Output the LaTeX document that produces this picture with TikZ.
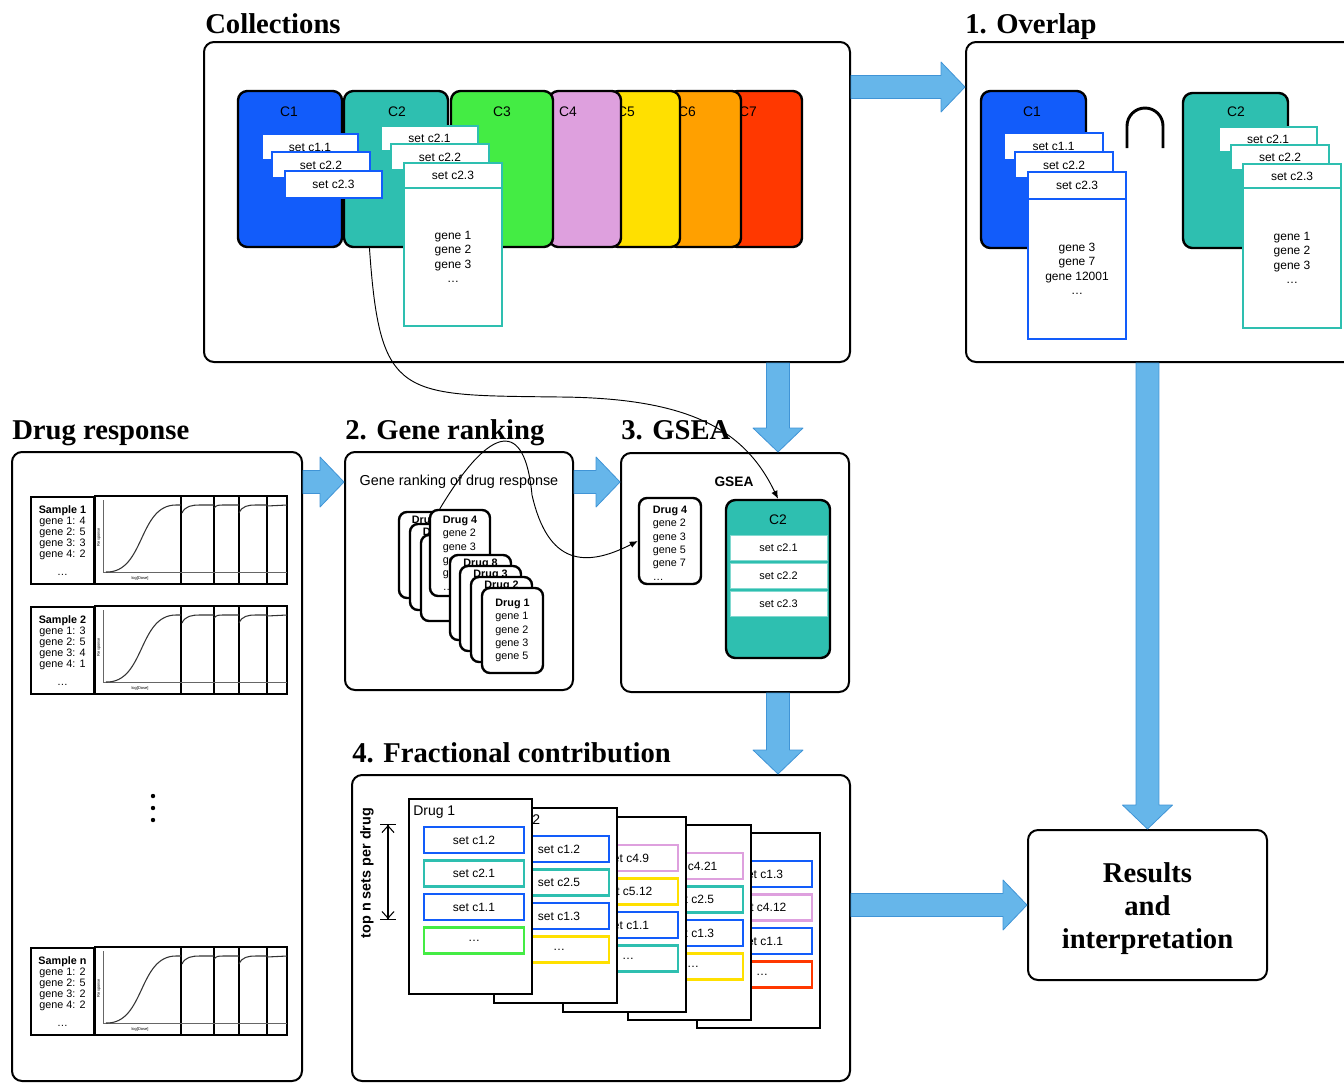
\documentclass[tikz,border=0pt]{standalone}
\usepackage{fontspec}
\setmainfont{Liberation Serif}
\setsansfont{Liberation Sans}
\usetikzlibrary{fit,calc,arrows.meta}

\definecolor{cblue}{RGB}{18,92,250}
\definecolor{cteal}{RGB}{46,191,176}
\definecolor{cgreen}{RGB}{68,236,68}
\definecolor{cpink}{RGB}{222,160,222}
\definecolor{cyellow}{RGB}{255,224,0}
\definecolor{corange}{RGB}{255,160,0}
\definecolor{cred}{RGB}{255,56,0}
\definecolor{arrfill}{RGB}{102,182,234}
\definecolor{arrline}{RGB}{64,148,214}

\tikzset{
  panel/.style={draw, fill=white, line width=1.5pt, rounded corners=7.5pt, inner sep=0pt},
  title/.style={font=\bfseries\fontsize{21.5}{24}\selectfont, anchor=base west, inner sep=0pt},
  coll/.style={draw, line width=1.8pt, rounded corners=7pt, inner sep=0pt},
  clabel/.style={font=\sffamily\fontsize{10.4}{12}\selectfont, inner sep=0pt},
  setbox/.style={draw, fill=white, line width=2pt, inner sep=0pt},
  settext/.style={font=\sffamily\fontsize{9}{10.9}\selectfont, inner sep=0pt, align=center},
  sample/.style={draw, line width=1.8pt, inner sep=0pt},
  sampletext/.style={font=\sffamily\fontsize{8.1}{8.2}\selectfont, inner sep=0pt, align=center},
  tiny/.style={font=\sffamily\fontsize{3}{3}\selectfont, inner sep=0pt},
  drugcard/.style={draw, fill=white, line width=1.8pt, rounded corners=6pt, inner sep=0pt},
  cardtext/.style={font=\sffamily\fontsize{8.1}{10}\selectfont, inner sep=0pt, align=left},
  rowbox/.style={draw=cteal!60, fill=white, line width=0.6pt, inner sep=0pt},
  rowtext/.style={font=\sffamily\fontsize{8.2}{10}\selectfont, inner sep=0pt},
  page/.style={draw, fill=white, line width=1.5pt, inner sep=0pt},
  drugname/.style={font=\sffamily\fontsize{10.5}{12}\selectfont, inner sep=0pt, anchor=west},
  bigtext/.style={font=\bfseries\fontsize{21.5}{24.75}\selectfont, inner sep=0pt, align=center},
  bigarr/.style={fill=arrfill, draw=arrline, line width=0.6pt, line join=round},
  link/.style={line width=0.7pt, -{Latex[length=6pt,width=5pt]}},
}

% block arrow from #1 to #2
\newcommand{\bigarrow}[2]{%
  \path (#1) coordinate (ba-s) (#2) coordinate (ba-e);
  \path ($(ba-e)!18pt!(ba-s)$) coordinate (ba-h);
  \filldraw[bigarr] ($(ba-s)!8.6pt!90:(ba-e)$) -- ($(ba-h)!8.6pt!-90:(ba-s)$)
    -- ($(ba-h)!18.75pt!-90:(ba-s)$) -- (ba-e) -- ($(ba-h)!18.75pt!90:(ba-s)$)
    -- ($(ba-h)!8.6pt!90:(ba-s)$) -- ($(ba-s)!8.6pt!-90:(ba-e)$) -- cycle;}

\begin{document}
\begin{tikzpicture}[x=0.75pt, y=-0.75pt]
\useasboundingbox (0,0) rectangle (1344,1082);
\clip (0,0) rectangle (1344,1082);

% Panels
\node[panel, fit={(204,42) (850,362)}] (coll) {};
\node[panel, fit={(966,42) (1360,362)}] (ovl) {};
\node[panel, fit={(12,452) (302,1081)}] (drug) {};
\node[panel, fit={(345,452) (573,690)}] (grank) {};
\node[panel, fit={(621,453) (849,692)}] (gsea) {};
\node[panel, fit={(352,775) (850,1081)}] (frac) {};
\node[panel, fit={(1028,830) (1267,980)}] (res) {};
\node[bigtext] (res-t) at ([yshift=-3pt]res.center) {Results\\and\\interpretation};

% Titles
\node[title] (coll-t) at (205,33) {Collections};
\node[title] (ovl-t) at (965,33) {1. Overlap};
\node[title] (drug-t) at (12,439) {Drug response};
\node[title] (grank-t) at (345,439) {2. Gene ranking};
\node[title] (gsea-t) at (621,439) {3. GSEA};
\node[title] (frac-t) at (352,762) {4. Fractional contribution};

% Collections
\foreach \n/\xa/\xb/\xl/\col in {7/728/802/748/cred, 6/668/741/687/corange,
    5/609/680/626/cyellow, 4/549/621/568/cpink, 3/451/553/502/cgreen,
    2/344/448/397/cteal, 1/238/342/289/cblue} {
  \node[coll, fill=\col, fit={(\xa,91) (\xb,247)}] (c\n) {};
  \node[clabel] (c\n-l) at (\xl,112) {C\n};
}
\node[setbox, draw=cblue, fit={(262,134) (358,160)}] (c1-s1) {};
\node[settext] (c1-s1-t) at (c1-s1) {set c1.1};
\node[setbox, draw=cblue, fit={(272,152) (370,178)}] (c1-s2) {};
\node[settext] (c1-s2-t) at (c1-s2) {set c2.2};
\node[setbox, draw=cblue, fit={(285,171) (382,198)}] (c1-s3) {};
\node[settext] (c1-s3-t) at (c1-s3) {set c2.3};
\node[setbox, draw=cteal, fit={(381,126) (478,151)}] (c2-s1) {};
\node[settext] (c2-s1-t) at (c2-s1) {set c2.1};
\node[setbox, draw=cteal, fit={(391,144) (489,170)}] (c2-s2) {};
\node[settext] (c2-s2-t) at (c2-s2) {set c2.2};
\node[setbox, draw=cteal, fit={(404,163) (502,188)}] (c2-s3) {};
\node[settext] (c2-s3-t) at (c2-s3) {set c2.3};
\node[setbox, draw=cteal, fit={(404,188) (502,326)}] (c2-g) {};
\node[settext] (c2-g-t) at (c2-g) {gene 1\\gene 2\\gene 3\\\ldots};

% Overlap
\node[coll, fill=cblue, fit={(981,91) (1086,248)}] (o1) {};
\node[clabel] (o1-l) at (1032,112) {C1};
\node[setbox, draw=cblue, fit={(1004,133) (1103,160)}] (o1-s1) {};
\node[settext] (o1-s1-t) at (o1-s1) {set c1.1};
\node[setbox, draw=cblue, fit={(1015,152) (1113,178)}] (o1-s2) {};
\node[settext] (o1-s2-t) at (o1-s2) {set c2.2};
\node[setbox, draw=cblue, fit={(1028,172) (1126,199)}] (o1-s3) {};
\node[settext] (o1-s3-t) at (o1-s3) {set c2.3};
\node[setbox, draw=cblue, fit={(1028,199) (1126,339)}] (o1-g) {};
\node[settext] (o1-g-t) at (o1-g) {gene 3\\gene 7\\gene 12001\\\ldots};
\draw[line width=2.2pt] (1127,148) -- (1127,126) arc[start angle=180, end angle=360, radius=18] -- (1163,148);
\node[coll, fill=cteal, fit={(1183,93) (1288,248)}] (o2) {};
\node[clabel] (o2-l) at (1236,112) {C2};
\node[setbox, draw=cteal, fit={(1219,127) (1317,152)}] (o2-s1) {};
\node[settext] (o2-s1-t) at (o2-s1) {set c2.1};
\node[setbox, draw=cteal, fit={(1231,145) (1329,170)}] (o2-s2) {};
\node[settext] (o2-s2-t) at (o2-s2) {set c2.2};
\node[setbox, draw=cteal, fit={(1243,164) (1341,188)}] (o2-s3) {};
\node[settext] (o2-s3-t) at (o2-s3) {set c2.3};
\node[setbox, draw=cteal, fit={(1243,188) (1341,328)}] (o2-g) {};
\node[settext] (o2-g-t) at (o2-g) {gene 1\\gene 2\\gene 3\\\ldots};

% Drug response samples
\foreach \y/\sm/\ga/\gb/\gc/\gd [count=\i] in {497/1/4/5/3/2, 607/2/3/5/4/1, 948/n/2/5/2/2} {
  \node[sample, fit={(31,\y) (94,\y+87)}] (s\i) {};
  \node[sampletext] (s\i-t) at (s\i) {\textbf{Sample \sm}\\gene 1: \ga\\gene 2: \gb\\gene 3: \gc\\gene 4: \gd\\[5.5pt]\ldots};
  \draw[line width=1.1pt] (s\i.north east) rectangle (287,\y+87);
  \foreach \xd in {181,214,239,267} \draw[line width=1pt] (\xd,\y) -- (\xd,\y+87);
  \draw[black!60, line width=0.5pt] (103,\y+3) -- (103,\y+75) -- (287,\y+75);
  \draw[black!80, line width=0.8pt] (106,\y+75) .. controls (145,\y+76) and (138,\y+8) .. (176,\y+8) -- (181,\y+8)
    (182,\y+16) .. controls (185,\y+9) and (192,\y+8) .. (200,\y+8) -- (214,\y+8)
    (214,\y+11) .. controls (217,\y+8) .. (226,\y+8) -- (239,\y+8)
    (239,\y+16) .. controls (242,\y+9) and (248,\y+8) .. (256,\y+8) -- (267,\y+8)
    (267,\y+9) -- (287,\y+8);
  \node[tiny] (s\i-x) at (140,\y+81) {log[Dose]};
  \node[tiny, rotate=90] (s\i-y) at (99,\y+40) {Response};
}
\foreach \yy in {796,808,820} \fill (153,\yy) circle[radius=2.2];

% Gene ranking
\node[font=\sffamily\fontsize{10.8}{13}\selectfont] (grtext) at (459,482) {Gene ranking of drug response};
\foreach \x/\y/\d in {399/512/7, 410/524/6, 421/535/5} {
  \node[drugcard, fit={(\x,\y) (\x+60,\y+86)}] (dr\d) {};
  \node[cardtext] (dr\d-t) at ([yshift=-7.5pt]dr\d.north) {\textbf{Drug \d}};
}
\node[drugcard, fit={(430,510) (490,596)}] (dr4) {};
\node[cardtext] (dr4-t) at (dr4) {\textbf{Drug 4}\\gene 2\\gene 3\\gene 5\\gene 7\\\ldots};
\foreach \x/\y/\d in {450/555/8, 460/566/3, 471/577/2} {
  \node[drugcard, fit={(\x,\y) (\x+61,\y+85)}] (dr\d) {};
  \node[cardtext] (dr\d-t) at ([yshift=-7.5pt]dr\d.north) {\textbf{Drug \d}};
}
\node[drugcard, fit={(482,588) (543,673)}] (dr1) {};
\node[cardtext] (dr1-t) at (dr1) {\textbf{Drug 1}\\gene 1\\gene 2\\gene 3\\gene 5};

% GSEA
\node[font=\sffamily\bfseries\fontsize{10.3}{12}\selectfont] (gsea-l) at (734,482) {GSEA};
\node[drugcard, fit={(639,498) (701,584)}] (gd4) {};
\node[cardtext] (gd4-t) at ([yshift=-1.5pt]gd4.center) {\textbf{Drug 4}\\gene 2\\gene 3\\gene 5\\gene 7\\\ldots};
\node[coll, fill=cteal, fit={(726,500) (830,658)}] (gc2) {};
\node[clabel] (gc2-l) at (778,520) {C2};
\foreach \r/\yy in {1/535, 2/563, 3/591} {
  \node[rowbox, fit={(730,\yy) (827,\yy+25)}] (gc2-\r) {};
  \node[rowtext] (gc2-\r-t) at (gc2-\r) {set c2.\r};
}

% Fractional contribution
\node[rotate=90, font=\sffamily\bfseries\fontsize{10.8}{12}\selectfont] (topn) at (367,873) {top n sets per drug};
\coordinate (topn-a) at (388,824);
\coordinate (topn-b) at (388,920);
\draw[line width=0.8pt, {Bar[width=12pt] Straight Barb[length=5pt,width=9pt]}-{Straight Barb[length=5pt,width=9pt] Bar[width=12pt]}] (topn-a) -- (topn-b);
\foreach \k/\px/\py/\sets in {
    5/697/833/{cblue/set c1.3,cpink/set c4.12,cblue/set c1.1,cred/\ldots},
    4/628/825/{cpink/set c4.21,cteal/set c2.5,cblue/set c1.3,cyellow/\ldots},
    3/563/817/{cpink/set c4.9,cyellow/set c5.12,cblue/set c1.1,cteal/\ldots},
    2/494/808/{cblue/set c1.2,cteal/set c2.5,cblue/set c1.3,cyellow/\ldots},
    1/409/799/{cblue/set c1.2,cteal/set c2.1,cblue/set c1.1,cgreen/\ldots}} {
  \node[page, fit={(\px,\py) (\px+123,\py+195)}] (p\k) {};
  \ifnum\k<3 \node[drugname] (p\k-t) at (\px+4,\py+13) {Drug \k}; \fi
  \foreach \c/\t [count=\r] in \sets {
    \node[setbox, draw=\c, fit={(\px+15,\py+28+33.5*\r-33.5) (\px+115,\py+54+33.5*\r-33.5)}] (p\k-\r) {};
    \node[settext] (p\k-\r-t) at (p\k-\r) {\t};
  }
}

% Block arrows
\bigarrow{[yshift=-34.5pt]coll.north east}{[yshift=-34.5pt]ovl.north west}
\bigarrow{coll.south -| gc2.north}{gsea.north -| gc2.north}
\bigarrow{gsea.south -| gc2.north}{frac.north -| gc2.north}
\bigarrow{drug.east |- grtext}{grank.west |- grtext}
\bigarrow{grank.east |- grtext}{gsea.west |- grtext}
\bigarrow{ovl.south -| res.north}{res.north}
\bigarrow{frac.east |- res.west}{res.west}

% Curved links
\draw[link] ([xshift=20pt]c2.south west) .. controls (380,400) and (400,395) .. (560,397)
  .. controls (690,398) and (745,430) .. (gc2.north);
\draw[link] ([xshift=8.25pt]dr4.north west) .. controls (492,422) and (525,420) .. (532,495)
  .. controls (548,565) and (585,568) .. (gd4.west);
\end{tikzpicture}
\end{document}
